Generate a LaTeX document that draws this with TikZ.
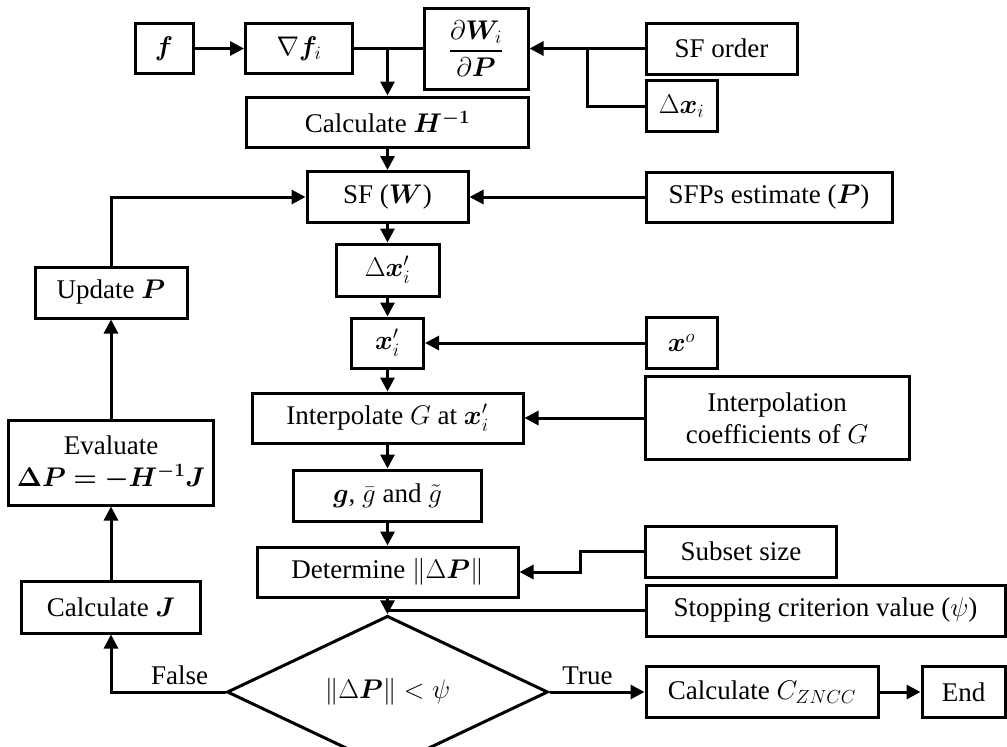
\documentclass[tikz,border=0pt]{standalone}
\usepackage{fix-cm}
\usepackage{amsmath}
\usepackage{amssymb}
\usepackage{bm}
\usepackage{fontspec}
\setmainfont{Liberation Serif}
\usetikzlibrary{shapes.geometric,arrows.meta}

\begin{document}
\begin{tikzpicture}[x=1pt,y=-1pt]
	\tikzstyle{box} = [rectangle, draw=black, line width=3pt, fill=white, inner sep=0pt, align=center, font=\fontsize{27}{32}\selectfont];
	\tikzstyle{lbl} = [draw=none, fill=none, font=\fontsize{27}{32}\selectfont];
	\tikzstyle{lin} = [line width=3pt];
	\tikzstyle{arr} = [line width=3pt, -{Triangle[length=14pt,width=14pt]}];
	\useasboundingbox (0,0) rectangle (1007,747);

	\node[box, minimum width=58pt, minimum height=50pt] at (164,48.5) (f) {$\bm{f}$};
	\node[box, minimum width=107pt, minimum height=50pt] at (299,48.5) (gradf) {$\nabla\bm{f}_i$};
	\node[box, minimum width=104pt, minimum height=81pt] at (476,48.5) (dWdP) {$\dfrac{\partial\bm{W}_i}{\partial\bm{P}}$};
	\node[box, minimum width=151pt, minimum height=51pt] at (721.5,48.5) (sforder) {SF order};
	\node[box, minimum width=71pt, minimum height=51pt] at (681.5,106) (dxi) {$\Delta\bm{x}_i$};
	\node[box, minimum width=282pt, minimum height=50pt] at (387.5,122) (calcH) {Calculate $\bm{H^{-1}}$};

	\node[box, minimum width=161pt, minimum height=51pt] at (387.5,197) (sfw) {SF ($\bm{W}$)};
	\node[box, minimum width=246pt, minimum height=50pt] at (769,197) (sfps) {SFPs estimate ($\bm{P}$)};
	\node[box, minimum width=103pt, minimum height=52pt] at (387.5,270) (dxip) {$\Delta\bm{x}'_i$};
	\node[box, minimum width=152pt, minimum height=51pt] at (111,292.5) (updP) {Update $\bm{P}$};
	\node[box, minimum width=72pt, minimum height=50pt] at (387.5,343) (xip) {$\bm{x}'_i$};
	\node[box, minimum width=71pt, minimum height=51pt] at (681.5,343) (xo) {$\bm{x}^{o}$};
	\node[box, minimum width=271pt, minimum height=50pt] at (387.5,418) (interp) {Interpolate $G$ at $\bm{x}'_i$};
	\node[box, minimum width=264pt, minimum height=83pt] at (777,418) (coef) {Interpolation\\coefficients of $G$};
	\node[box, minimum width=205pt, minimum height=85pt] at (111,462.5) (evalP) {Evaluate\\$\bm{\Delta P = -H^{-1}J}$};
	\node[box, minimum width=188pt, minimum height=51pt] at (387.5,495.5) (gbox) {$\bm{g}$, $\bar{g}$ and $\tilde{g}$};

	\node[box, minimum width=261pt, minimum height=50pt] at (387.5,572) (detP) {Determine $\|\Delta\bm{P}\|$};
	\node[box, minimum width=191pt, minimum height=51pt] at (741,551.5) (subset) {Subset size};
	\node[box, minimum width=359pt, minimum height=51pt] at (825.5,610.5) (stop) {Stopping criterion value ($\psi$)};
	\node[box, minimum width=179pt, minimum height=52pt] at (111,607) (calcJ) {Calculate $\bm{J}$};
	\node[box, diamond, minimum width=321pt, minimum height=114pt] at (387.5,692) (dia) {$\|\Delta\bm{P}\| < \psi$};
	\node[box, minimum width=232pt, minimum height=51pt] at (762,692) (calcZ) {Calculate $C_{ZNCC}$};
	\node[box, minimum width=83pt, minimum height=51pt] at (963.5,692) (endb) {End};

	\coordinate (jn) at (587,48.5);

	\draw[arr] (f) -- (gradf);
	\draw[lin] (gradf) -- (dWdP);
	\draw[arr] (calcH.north |- gradf.east) -- (calcH.north);
	\draw[arr] (sforder) -- (dWdP);
	\draw[lin] (dxi.west) -| (jn);
	\draw[arr] (calcH) -- (sfw);
	\draw[arr] (sfps) -- (sfw);
	\draw[arr] (updP.north) |- (sfw.west);
	\draw[arr] (sfw) -- (dxip);
	\draw[arr] (dxip) -- (xip);
	\draw[arr] (xo) -- (xip);
	\draw[arr] (xip) -- (interp);
	\draw[arr] (coef) -- (interp);
	\draw[arr] (interp) -- (gbox);
	\draw[arr] (gbox) -- (detP);
	\draw[arr] (subset.west) -- ++(-64,0) |- (detP.east);
	\draw[arr] (detP) -- (dia);
	\draw[lin] (stop.west) -- (stop.west -| detP.south);
	\draw[arr] (dia) -- node[lbl, pos=0.4, above=2pt] {True} (calcZ);
	\draw[arr] (calcZ) -- (endb);
	\draw[arr] (dia.west) -| node[lbl, pos=0.2, above=2pt] {False} (calcJ.south);
	\draw[arr] (calcJ) -- (evalP);
	\draw[arr] (evalP) -- (updP);

\end{tikzpicture}
\end{document}
